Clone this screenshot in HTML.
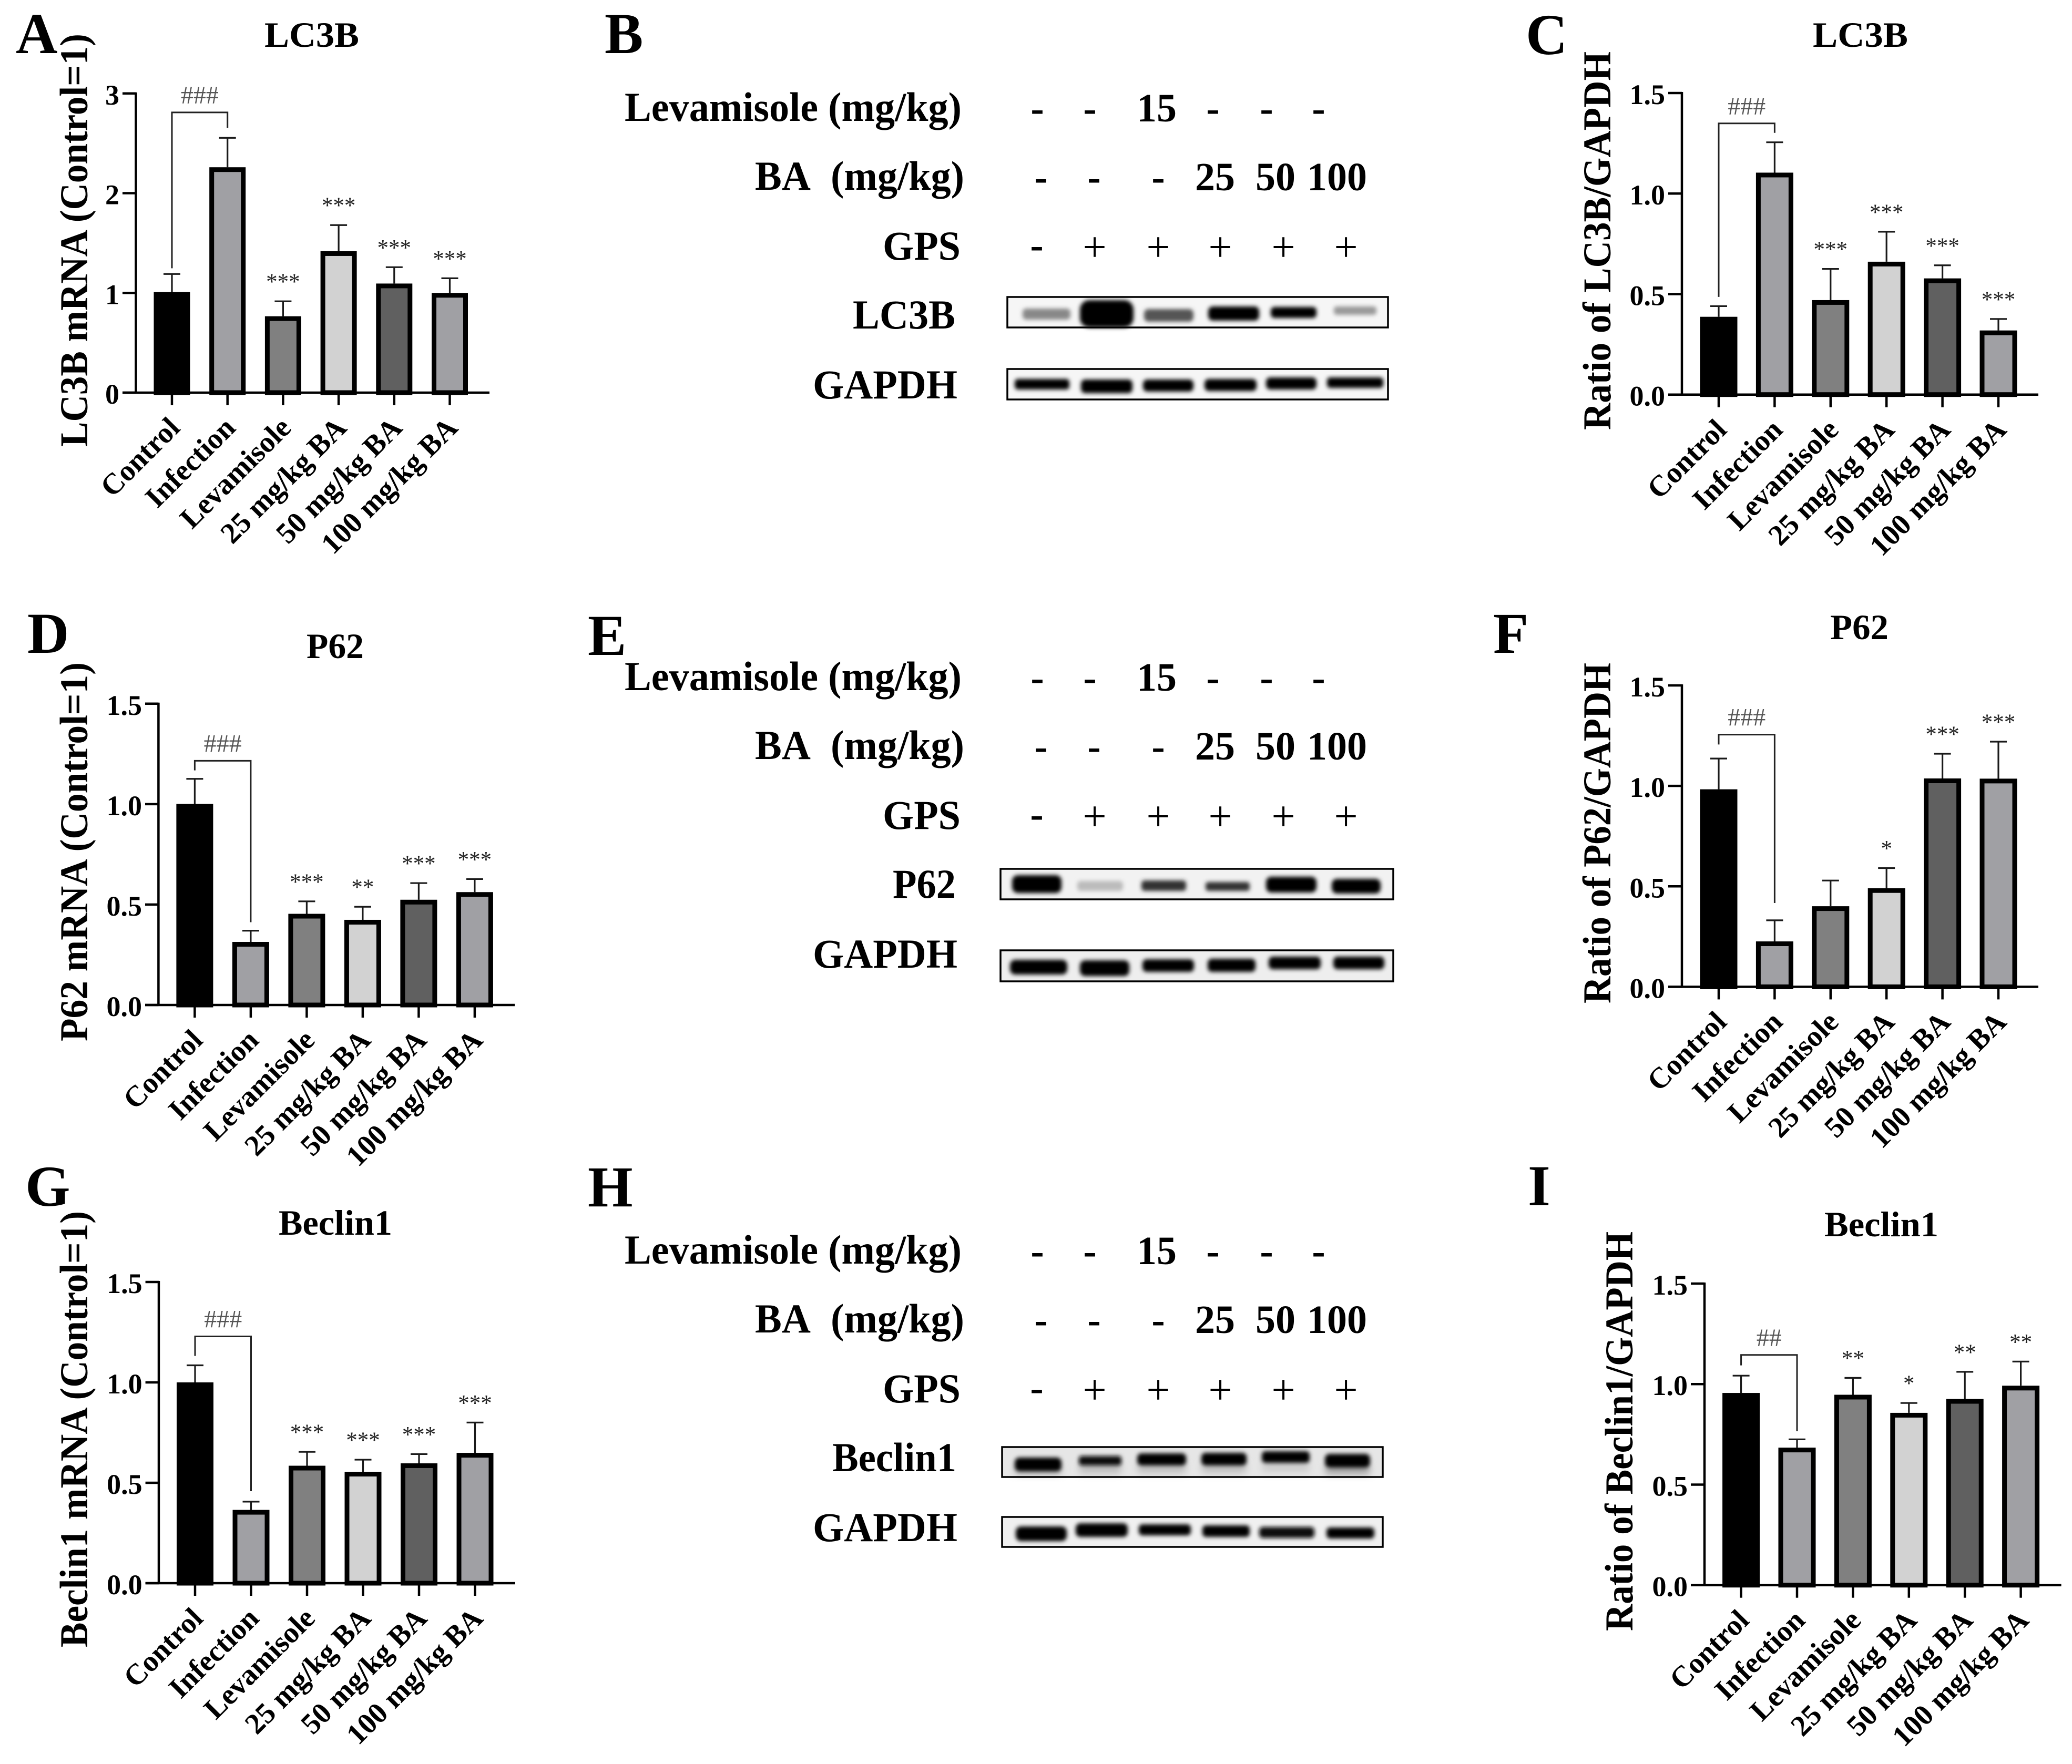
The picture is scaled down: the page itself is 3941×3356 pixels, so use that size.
<!DOCTYPE html>
<html lang="en">
<head>
<meta charset="utf-8">
<title>Autophagy marker figure</title>
<style>
html,body{margin:0;padding:0;background:#fff;}
svg{display:block;}
text{font-family:"Liberation Serif",serif;fill:#000;}
.pl{font-weight:bold;font-size:110px;}
.tt{font-weight:bold;font-size:68px;}
.yt{font-weight:bold;font-size:75px;}
.lb{font-weight:bold;font-size:78px;}
.c{font-weight:bold;font-size:76px;text-anchor:middle;}
.p{font-weight:normal;font-size:80px;text-anchor:middle;}
</style>
</head>
<body>
<svg id="figure" xmlns="http://www.w3.org/2000/svg" width="3941" height="3356" viewBox="0 0 3941 3356">
<defs>
<filter id="bl" x="-5%" y="-40%" width="110%" height="180%"><feMorphology operator="dilate" radius="1 3"/><feGaussianBlur stdDeviation="4"/></filter>
<filter id="bg" x="-5%" y="-60%" width="110%" height="220%"><feGaussianBlur stdDeviation="7"/></filter>
</defs>
<rect width="3941" height="3356" fill="#fff"/>

<text class="pl" x="30" y="101">A</text>
<text class="pl" x="1150" y="101">B</text>
<text class="pl" x="2902" y="103">C</text>
<text class="pl" x="52" y="1242">D</text>
<text class="pl" x="1118" y="1246">E</text>
<text class="pl" x="2840" y="1242">F</text>
<text class="pl" x="48" y="2294">G</text>
<text class="pl" x="1118" y="2295">H</text>
<text class="pl" x="2906" y="2293">I</text>

<text class="tt" x="503" y="89" textLength="180" lengthAdjust="spacingAndGlyphs">LC3B</text>
<text class="tt" x="3448" y="89" textLength="181" lengthAdjust="spacingAndGlyphs">LC3B</text>
<text class="tt" x="583" y="1252" textLength="109" lengthAdjust="spacingAndGlyphs">P62</text>
<text class="tt" x="3481" y="1216" textLength="111" lengthAdjust="spacingAndGlyphs">P62</text>
<text class="tt" x="530" y="2349" textLength="216" lengthAdjust="spacingAndGlyphs">Beclin1</text>
<text class="tt" x="3470" y="2352" textLength="217" lengthAdjust="spacingAndGlyphs">Beclin1</text>

<text class="yt" transform="translate(166,850) rotate(-90)" textLength="786" lengthAdjust="spacingAndGlyphs">LC3B mRNA (Control=1)</text>
<text class="yt" transform="translate(3063,818) rotate(-90)" textLength="720" lengthAdjust="spacingAndGlyphs">Ratio of LC3B/GAPDH</text>
<text class="yt" transform="translate(166,1981) rotate(-90)" textLength="721" lengthAdjust="spacingAndGlyphs">P62 mRNA (Control=1)</text>
<text class="yt" transform="translate(3063,1909) rotate(-90)" textLength="648" lengthAdjust="spacingAndGlyphs">Ratio of P62/GAPDH</text>
<text class="yt" transform="translate(166,3134) rotate(-90)" textLength="830" lengthAdjust="spacingAndGlyphs">Beclin1 mRNA (Control=1)</text>
<text class="yt" transform="translate(3105,3103) rotate(-90)" textLength="760" lengthAdjust="spacingAndGlyphs">Ratio of Beclin1/GAPDH</text>

<!-- Panel B labels -->
<g>
<text class="lb" x="1188" y="230" textLength="641" lengthAdjust="spacingAndGlyphs">Levamisole (mg/kg)</text>
<text class="lb" x="1436" y="361" textLength="398" lengthAdjust="spacingAndGlyphs">BA&#160; (mg/kg)</text>
<text class="lb" x="1679" y="494" textLength="148" lengthAdjust="spacingAndGlyphs">GPS</text>
<text class="lb" x="1622" y="625" textLength="195" lengthAdjust="spacingAndGlyphs">LC3B</text>
<text class="lb" x="1546" y="758" textLength="275" lengthAdjust="spacingAndGlyphs">GAPDH</text>
<text class="c" x="1973" y="231">-</text><text class="c" x="2073" y="231">-</text><text class="c" x="2200" y="231">15</text><text class="c" x="2307" y="231">-</text><text class="c" x="2409" y="231">-</text><text class="c" x="2508" y="231">-</text>
<text class="c" x="1980" y="362">-</text><text class="c" x="2081" y="362">-</text><text class="c" x="2203" y="362">-</text><text class="c" x="2311" y="362">25</text><text class="c" x="2426" y="362">50</text><text class="c" x="2543" y="362">100</text>
<text class="c" x="1972" y="491">-</text><text class="p" x="2082" y="497">+</text><text class="p" x="2203" y="497">+</text><text class="p" x="2321" y="497">+</text><text class="p" x="2441" y="497">+</text><text class="p" x="2560" y="497">+</text>
</g>
<!-- Panel E labels -->
<g transform="translate(0,1083)">
<text class="lb" x="1188" y="230" textLength="641" lengthAdjust="spacingAndGlyphs">Levamisole (mg/kg)</text>
<text class="lb" x="1436" y="361" textLength="398" lengthAdjust="spacingAndGlyphs">BA&#160; (mg/kg)</text>
<text class="lb" x="1679" y="494" textLength="148" lengthAdjust="spacingAndGlyphs">GPS</text>
<text class="lb" x="1698" y="625" textLength="120" lengthAdjust="spacingAndGlyphs">P62</text>
<text class="lb" x="1546" y="758" textLength="275" lengthAdjust="spacingAndGlyphs">GAPDH</text>
<text class="c" x="1973" y="231">-</text><text class="c" x="2073" y="231">-</text><text class="c" x="2200" y="231">15</text><text class="c" x="2307" y="231">-</text><text class="c" x="2409" y="231">-</text><text class="c" x="2508" y="231">-</text>
<text class="c" x="1980" y="362">-</text><text class="c" x="2081" y="362">-</text><text class="c" x="2203" y="362">-</text><text class="c" x="2311" y="362">25</text><text class="c" x="2426" y="362">50</text><text class="c" x="2543" y="362">100</text>
<text class="c" x="1972" y="491">-</text><text class="p" x="2082" y="497">+</text><text class="p" x="2203" y="497">+</text><text class="p" x="2321" y="497">+</text><text class="p" x="2441" y="497">+</text><text class="p" x="2560" y="497">+</text>
</g>
<!-- Panel H labels -->
<g transform="translate(0,2174)">
<text class="lb" x="1188" y="230" textLength="641" lengthAdjust="spacingAndGlyphs">Levamisole (mg/kg)</text>
<text class="lb" x="1436" y="361" textLength="398" lengthAdjust="spacingAndGlyphs">BA&#160; (mg/kg)</text>
<text class="lb" x="1679" y="494" textLength="148" lengthAdjust="spacingAndGlyphs">GPS</text>
<text class="lb" x="1583" y="625" textLength="236" lengthAdjust="spacingAndGlyphs">Beclin1</text>
<text class="lb" x="1546" y="758" textLength="275" lengthAdjust="spacingAndGlyphs">GAPDH</text>
<text class="c" x="1973" y="231">-</text><text class="c" x="2073" y="231">-</text><text class="c" x="2200" y="231">15</text><text class="c" x="2307" y="231">-</text><text class="c" x="2409" y="231">-</text><text class="c" x="2508" y="231">-</text>
<text class="c" x="1980" y="362">-</text><text class="c" x="2081" y="362">-</text><text class="c" x="2203" y="362">-</text><text class="c" x="2311" y="362">25</text><text class="c" x="2426" y="362">50</text><text class="c" x="2543" y="362">100</text>
<text class="c" x="1972" y="491">-</text><text class="p" x="2082" y="497">+</text><text class="p" x="2203" y="497">+</text><text class="p" x="2321" y="497">+</text><text class="p" x="2441" y="497">+</text><text class="p" x="2560" y="497">+</text>
</g>

<!-- Blots: static image-like bands -->
<g>
<rect x="1916" y="565" width="724" height="58" fill="#f6f6f6"/>
<g filter="url(#bl)"><rect x="1946" y="590" width="89" height="15" rx="7" fill="#888"/><rect x="2055" y="574" width="100" height="46" rx="18" fill="#000"/><rect x="2177" y="591" width="92" height="18" rx="8" fill="#555"/><rect x="2299" y="586" width="95" height="21" rx="9" fill="#000"/><rect x="2418" y="587" width="85" height="15" rx="7" fill="#000"/><rect x="2538" y="586" width="79" height="10" rx="5" fill="#999"/></g>
<rect x="1916" y="565" width="724" height="58" fill="none" stroke="#000" stroke-width="3.5"/>
</g>
<g>
<rect x="1916" y="702" width="724" height="58" fill="#f6f6f6"/>
<g filter="url(#bl)"><rect x="1931" y="724" width="102" height="14" rx="6" fill="#000"/><rect x="2057" y="725" width="96" height="20" rx="8" fill="#000"/><rect x="2175" y="725" width="94" height="17" rx="8" fill="#000"/><rect x="2292" y="724" width="97" height="17" rx="8" fill="#000"/><rect x="2409" y="721" width="94" height="17" rx="8" fill="#000"/><rect x="2525" y="721" width="105" height="14" rx="6" fill="#000"/></g>
<rect x="1916" y="702" width="724" height="58" fill="none" stroke="#000" stroke-width="3.5"/>
</g>
<g>
<rect x="1903" y="1653" width="747" height="58" fill="#f2f2f2"/>
<g filter="url(#bl)"><rect x="1926" y="1668" width="92" height="28" rx="11" fill="#000"/><rect x="2050" y="1679" width="85" height="13" rx="6" fill="#bbb"/><rect x="2172" y="1678" width="83" height="14" rx="6" fill="#333"/><rect x="2294" y="1681" width="82" height="11" rx="5" fill="#333"/><rect x="2409" y="1671" width="94" height="24" rx="10" fill="#000"/><rect x="2534" y="1675" width="91" height="22" rx="10" fill="#000"/></g>
<rect x="1903" y="1653" width="747" height="58" fill="none" stroke="#000" stroke-width="3.5"/>
</g>
<g>
<rect x="1903" y="1808" width="747" height="59" fill="#eee"/>
<g filter="url(#bl)"><rect x="1922" y="1829" width="107" height="22" rx="10" fill="#000"/><rect x="2055" y="1830" width="92" height="24" rx="10" fill="#000"/><rect x="2174" y="1828" width="96" height="18" rx="8" fill="#000"/><rect x="2298" y="1827" width="89" height="19" rx="8" fill="#000"/><rect x="2414" y="1823" width="97" height="18" rx="8" fill="#000"/><rect x="2537" y="1823" width="95" height="18" rx="8" fill="#000"/></g>
<rect x="1903" y="1808" width="747" height="59" fill="none" stroke="#000" stroke-width="3.5"/>
</g>
<g>
<rect x="1906" y="2753" width="724" height="57" fill="#e6e6e6"/>
<g filter="url(#bg)"><rect x="1931" y="2790" width="87" height="14" fill="#aaa"/><rect x="2053" y="2785" width="79" height="18" fill="#bbb"/><rect x="2164" y="2784" width="91" height="18" fill="#bbb"/><rect x="2286" y="2784" width="84" height="18" fill="#bbb"/><rect x="2401" y="2780" width="89" height="20" fill="#ccc"/><rect x="2521" y="2788" width="84" height="16" fill="#999"/></g>
<g filter="url(#bl)"><rect x="1931" y="2776" width="87" height="20" rx="9" fill="#000"/><rect x="2053" y="2773" width="79" height="12" rx="5" fill="#111"/><rect x="2164" y="2768" width="91" height="17" rx="8" fill="#000"/><rect x="2286" y="2767" width="84" height="18" rx="8" fill="#000"/><rect x="2401" y="2764" width="89" height="16" rx="7" fill="#000"/><rect x="2521" y="2769" width="84" height="20" rx="9" fill="#000"/></g>
<rect x="1906" y="2753" width="724" height="57" fill="none" stroke="#000" stroke-width="3.5"/>
</g>
<g>
<rect x="1906" y="2886" width="724" height="57" fill="#f0f0f0"/>
<g filter="url(#bl)"><rect x="1933" y="2907" width="95" height="22" rx="10" fill="#000"/><rect x="2047" y="2901" width="97" height="20" rx="9" fill="#000"/><rect x="2167" y="2903" width="97" height="15" rx="7" fill="#000"/><rect x="2288" y="2905" width="88" height="16" rx="7" fill="#000"/><rect x="2396" y="2908" width="103" height="15" rx="7" fill="#111"/><rect x="2524" y="2909" width="89" height="15" rx="7" fill="#000"/></g>
<rect x="1906" y="2886" width="724" height="57" fill="none" stroke="#000" stroke-width="3.5"/>
</g>
</svg>
<script>
// ---- chart data ----
const categories = ['Control','Infection','Levamisole','25 mg/kg BA','50 mg/kg BA','100 mg/kg BA'];
const fills = ['#000000','#a0a0a4','#808080','#d2d2d2','#606060','#a0a0a4'];
const mrnaTicksA = ['0','1','2','3'];
const ratioTicks = ['0.0','0.5','1.0','1.5'];

const valuesA = [1.008,2.26,0.766,1.418,1.094,1.0];
const errorsA = [1.19,2.555,0.916,1.68,1.258,1.147];
const starsA = ['','','***','***','***','***'];
const bracketA = [2.81,1.247,2.655];
const hashA = '###';

const valuesC = [0.387,1.104,0.47,0.661,0.578,0.319];
const errorsC = [0.44,1.255,0.625,0.81,0.643,0.376];
const starsC = ['','','***','***','***','***'];
const bracketC = [1.349,0.486,1.302];
const hashC = '###';

const valuesD = [1.001,0.314,0.454,0.424,0.524,0.562];
const errorsD = [1.126,0.37,0.516,0.489,0.607,0.627];
const starsD = ['','','***','**','***','***'];
const bracketD = [1.216,1.168,0.412];
const hashD = '###';

const valuesF = [0.983,0.226,0.401,0.491,1.037,1.036];
const errorsF = [1.136,0.331,0.529,0.591,1.16,1.22];
const starsF = ['','','','*','***','***'];
const bracketF = [1.255,1.206,0.417];
const hashF = '###';

const valuesG = [1.0,0.365,0.585,0.555,0.597,0.649];
const errorsG = [1.085,0.406,0.654,0.615,0.643,0.8];
const starsG = ['','','***','***','***','***'];
const bracketG = [1.229,1.132,0.458];
const hashG = '###';

const valuesI = [0.956,0.684,0.947,0.857,0.926,0.992];
const errorsI = [1.042,0.725,1.031,0.906,1.061,1.112];
const starsI = ['','','**','*','**','**'];
const bracketI = [1.145,1.093,0.766];
const hashI = '##';

// ---- drawing ----
const SVGNS = 'http://www.w3.org/2000/svg';
const root = document.getElementById('figure');
function make(parent, tag, attrs, txt){
  const el = document.createElementNS(SVGNS, tag);
  for (const k in attrs) el.setAttribute(k, attrs[k]);
  if (txt !== undefined) el.textContent = txt;
  parent.appendChild(el);
  return el;
}
function drawChart(id, g, ticks, values, errors, stars, bracket, hash){
  const ymax = parseFloat(ticks[ticks.length-1]);
  const yScale = v => g.base - v / ymax * (g.base - g.top);
  const xScale = i => g.first + i * g.step;
  const chart = make(root, 'g', {});
  
  

  values.forEach((v, i) => {
    const err = make(chart, 'path', {d:'M'+xScale(i)+' '+yScale(v)+'V'+yScale(errors[i])+'M'+(xScale(i)-16)+' '+yScale(errors[i])+'H'+(xScale(i)+16), fill:'none', stroke:'#1a1a1a', 'stroke-width':3.2});
    
    
    const bar = make(chart, 'rect', {x:xScale(i)-g.barW/2+4.5, y:yScale(v)+4.5, width:g.barW-9, height:Math.max(0,g.base-yScale(v)-4.5), fill:fills[i], stroke:'#000', 'stroke-width':9});
    
    
    if (stars[i]) {
      const st = make(chart, 'text', {x:xScale(i), y:yScale(errors[i])-23, 'text-anchor':'middle', 'font-size':43, style:'fill:#222'}, stars[i]);
      
      
    }
  });

  // axes
  const axisX = make(chart, 'path', {d:'M'+g.tickLeft+' '+g.base+'H'+g.xEnd, fill:'none', stroke:'#000', 'stroke-width':4.5});
  
  
  const axisY = make(chart, 'path', {d:'M'+g.axis+' '+(g.top-2)+'V'+g.base, fill:'none', stroke:'#000', 'stroke-width':4.5});
  
  

  ticks.forEach(t => {
    const y = yScale(parseFloat(t));
    const tk = make(chart, 'path', {d:'M'+g.tickLeft+' '+y+'H'+g.axis, fill:'none', stroke:'#000', 'stroke-width':4.5});
    
    
    const lb = make(chart, 'text', {x:g.tickLeft-6, y:y+21, 'text-anchor':'end', 'font-size':54, 'font-weight':'bold'}, t);
    
    
  });

  categories.forEach((c, i) => {
    const x = xScale(i);
    const tk = make(chart, 'path', {d:'M'+x+' '+g.base+'V'+(g.base+24), fill:'none', stroke:'#000', 'stroke-width':4.5});
    
    
    const lb = make(chart, 'text', {transform:'translate('+(x+18)+','+(g.base+70)+') rotate(-45)', 'text-anchor':'end', 'font-size':56, 'font-weight':'bold'}, c);
    
    
  });

  // bracket
  const br = make(chart, 'path', {d:'M'+xScale(0)+' '+yScale(bracket[1])+'V'+yScale(bracket[0])+'H'+xScale(1)+'V'+yScale(bracket[2]), fill:'none', stroke:'#222', 'stroke-width':3});
  
  
  const ht = make(chart, 'text', {x:(xScale(0)+xScale(1))/2, y:yScale(bracket[0])-17, 'text-anchor':'middle', 'font-size':48, style:'fill:#555'}, hash);
  
  
}

drawChart('a', {axis:258.5, tickLeft:233, xEnd:931, top:177.8, base:747, first:327, step:105.7, barW:69}, mrnaTicksA, valuesA, errorsA, starsA, bracketA, hashA);
drawChart('c', {axis:3199, tickLeft:3173, xEnd:3877, top:177, base:750.7, first:3269, step:106.4, barW:71}, ratioTicks, valuesC, errorsC, starsC, bracketC, hashC);
drawChart('d', {axis:301.4, tickLeft:276, xEnd:979, top:1338.8, base:1912, first:370.4, step:106.5, barW:70}, ratioTicks, valuesD, errorsD, starsD, bracketD, hashD);
drawChart('f', {axis:3199, tickLeft:3173, xEnd:3877, top:1304, base:1877.4, first:3269, step:106.4, barW:71}, ratioTicks, valuesF, errorsF, starsF, bracketF, hashF);
drawChart('g', {axis:302, tickLeft:276.6, xEnd:980, top:2439, base:3012, first:371, step:106.5, barW:70}, ratioTicks, valuesG, errorsG, starsG, bracketG, hashG);
drawChart('i', {axis:3242, tickLeft:3216, xEnd:3920.6, top:2442, base:3015.7, first:3311.6, step:106.4, barW:71}, ratioTicks, valuesI, errorsI, starsI, bracketI, hashI);
</script>
</body>
</html>
